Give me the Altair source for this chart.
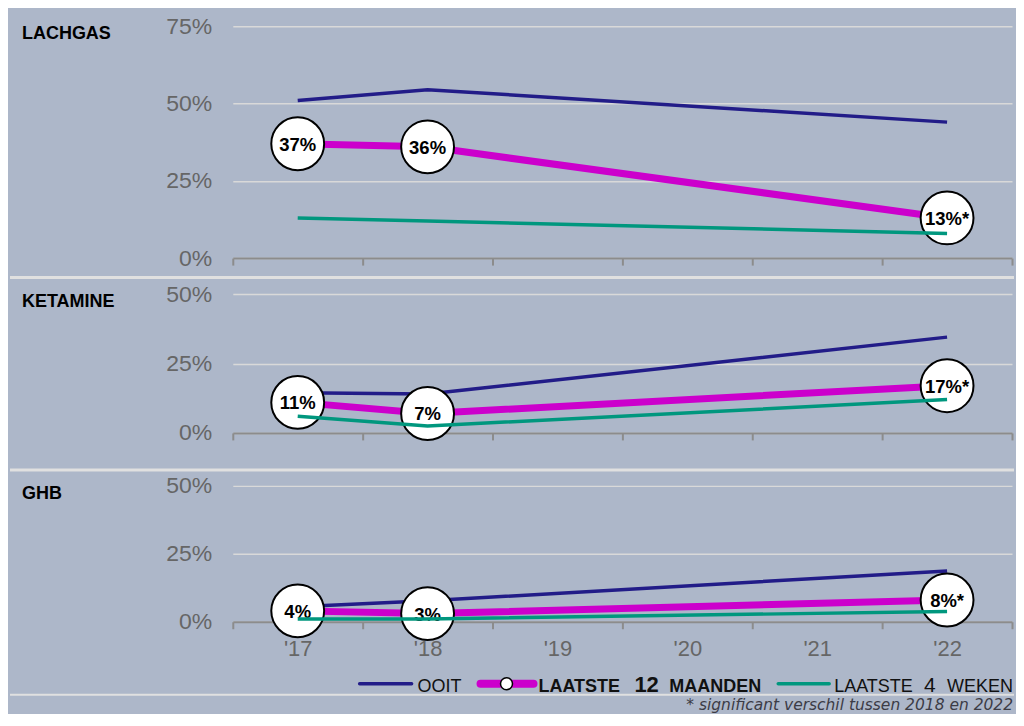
import altair as alt
import pandas as pd

# ---- data ----
years = ["'17", "'18", "'22"]
all_years = ["'17", "'18", "'19", "'20", "'21", "'22"]

lachgas_ooit = [51, 54.5, 44]
lachgas_12m = [37, 36, 13]
lachgas_4w = [13, 12, 8]
lachgas_lab = ["37%", "36%", "13%*"]

ketamine_ooit = [14.5, 14, 34.5]
ketamine_12m = [11, 7, 17]
ketamine_4w = [6, 2.5, 12]
ketamine_lab = ["11%", "7%", "17%*"]

ghb_ooit = [5.5, 7.7, 18.7]
ghb_12m = [4, 3, 8]
ghb_4w = [1, 1, 3.8]
ghb_lab = ["4%", "3%", "8%*"]

NAVY = "#221C88"
MAGENTA = "#CC00CC"
TEAL = "#00977E"
BG = "#ADB7C9"
SEP = "#E0E0E0"
FONT = "Liberation Sans"
RIGHT = 782

one = pd.DataFrame({"d": [0]})


def panel(name, ooit, m12, w4, labs, ymax, yvals, height, yrange, xoffset,
          show_labels, title_y, sep_y=None, extra=None):
    df = pd.DataFrame({"year": years, "ooit": ooit, "m12": m12, "w4": w4, "lab": labs})
    xenc = alt.X(
        "year:O",
        bandPosition=0.5,
        scale=alt.Scale(type="band", domain=all_years, paddingInner=0, paddingOuter=0),
        axis=alt.Axis(
            tickBand="extent", labels=show_labels, labelFontSize=22, labelColor="#666666",
            labelFont=FONT, labelPadding=10, tickSize=7, tickColor="#8C8C8C", tickWidth=2,
            domainColor="#8C8C8C", domainWidth=2, grid=False, offset=xoffset, labelAngle=0,
            title=None,
        ),
    )
    yscale = alt.Scale(domain=[0, ymax], range=yrange, nice=False, zero=True)
    yaxis = alt.Axis(
        values=yvals, labelExpr="datum.value + '%'", grid=True, gridColor="#D9D9D9",
        gridWidth=1.5, domain=False, ticks=False, labelPadding=21, labelFontSize=23,
        labelColor="#666666", labelFont=FONT, title=None,
    )

    def Y(f):
        return alt.Y(f"{f}:Q", scale=yscale, axis=yaxis, title=None)

    base = alt.Chart(df).encode(x=xenc)
    l_ooit = base.mark_line(color=NAVY, strokeWidth=3.5).encode(y=Y("ooit"))
    l_m12 = base.mark_line(color=MAGENTA, strokeWidth=7).encode(y=Y("m12"))
    circ = base.mark_point(shape="circle", filled=True, fill="white", stroke="black",
                           strokeWidth=2, size=2800, opacity=1).encode(y=Y("m12"))
    txt = base.mark_text(font=FONT, fontWeight="bold", fontSize=18.5, color="black",
                         baseline="middle", align="center", dy=1).encode(y=Y("m12"), text="lab:N")
    l_w4 = base.mark_line(color=TEAL, strokeWidth=3.5).encode(y=Y("w4"))

    title = alt.Chart(one).mark_text(font=FONT, fontWeight="bold", fontSize=18, color="black",
                                     align="left", baseline="middle", text=name).encode(
        x=alt.value(-211), y=alt.value(title_y))

    layers = [title, l_ooit, l_m12, circ, txt, l_w4]
    if sep_y is not None:
        sep = alt.Chart(one).mark_rule(color=SEP, strokeWidth=3).encode(
            x=alt.value(-223), x2=alt.value(RIGHT), y=alt.value(sep_y))
        layers = [sep] + layers
    if extra:
        layers += extra
    return alt.layer(*layers).properties(width=780, height=height)


# legend + footnote (panel 3 coordinates)
LY = 215
LB = 223


def leg_rule(x1, x2, color, w):
    return alt.Chart(one).mark_rule(color=color, strokeWidth=w, strokeCap="round").encode(
        x=alt.value(x1), x2=alt.value(x2), y=alt.value(LY))


def leg_text(t, x, size, bold):
    return alt.Chart(one).mark_text(font=FONT, fontSize=size, fontWeight="bold" if bold else "normal",
                                    color="#111111", align="left", baseline="alphabetic", text=t).encode(
        x=alt.value(x), y=alt.value(LB))


legend = [
    leg_rule(127, 179, NAVY, 3.5),
    leg_text("OOIT", 185, 18, False),
    leg_rule(248, 301, MAGENTA, 8),
    alt.Chart(one).mark_point(shape="circle", filled=True, fill="white", stroke="black",
                              strokeWidth=1.5, size=144, opacity=1).encode(
        x=alt.value(274), y=alt.value(LY)),
    leg_text("LAATSTE", 306, 18, True),
    leg_text("12", 402, 22, True),
    leg_text("MAANDEN", 437, 18, True),
    leg_rule(546, 597, TEAL, 3.5),
    leg_text("LAATSTE", 602, 18, False),
    leg_text("4", 692, 21, False),
    leg_text("WEKEN", 715, 18, False),
    alt.Chart(one).mark_rule(color=SEP, strokeWidth=2).encode(
        x=alt.value(-223), x2=alt.value(RIGHT), y=alt.value(226)),
    alt.Chart(one).mark_text(font="DejaVu Sans", fontStyle="italic", fontSize=15.5, color="#3C3C46",
                             align="right", baseline="alphabetic",
                             text="* significant verschil tussen 2018 en 2022").encode(
        x=alt.value(781), y=alt.value(241)),
]

p1 = panel("LACHGAS", lachgas_ooit, lachgas_12m, lachgas_4w, lachgas_lab, 75, [0, 25, 50, 75],
           270, [250, 18], -20, False, 25.5, 269.5)
p2 = panel("KETAMINE", ketamine_ooit, ketamine_12m, ketamine_4w, ketamine_lab, 50, [0, 25, 50],
           191, [155, 16], -36, False, 23.5)
p3 = panel("GHB", ghb_ooit, ghb_12m, ghb_4w, ghb_lab, 50, [0, 25, 50],
           243, [153, 17], -90, True, 25, 1, extra=legend)

chart = alt.vconcat(p1, p2, p3, spacing=0, bounds="flush").properties(
    background=BG, padding=0
).configure_view(stroke=None)

chart.save("out.html", embed_options={"renderer": "svg", "actions": False})
